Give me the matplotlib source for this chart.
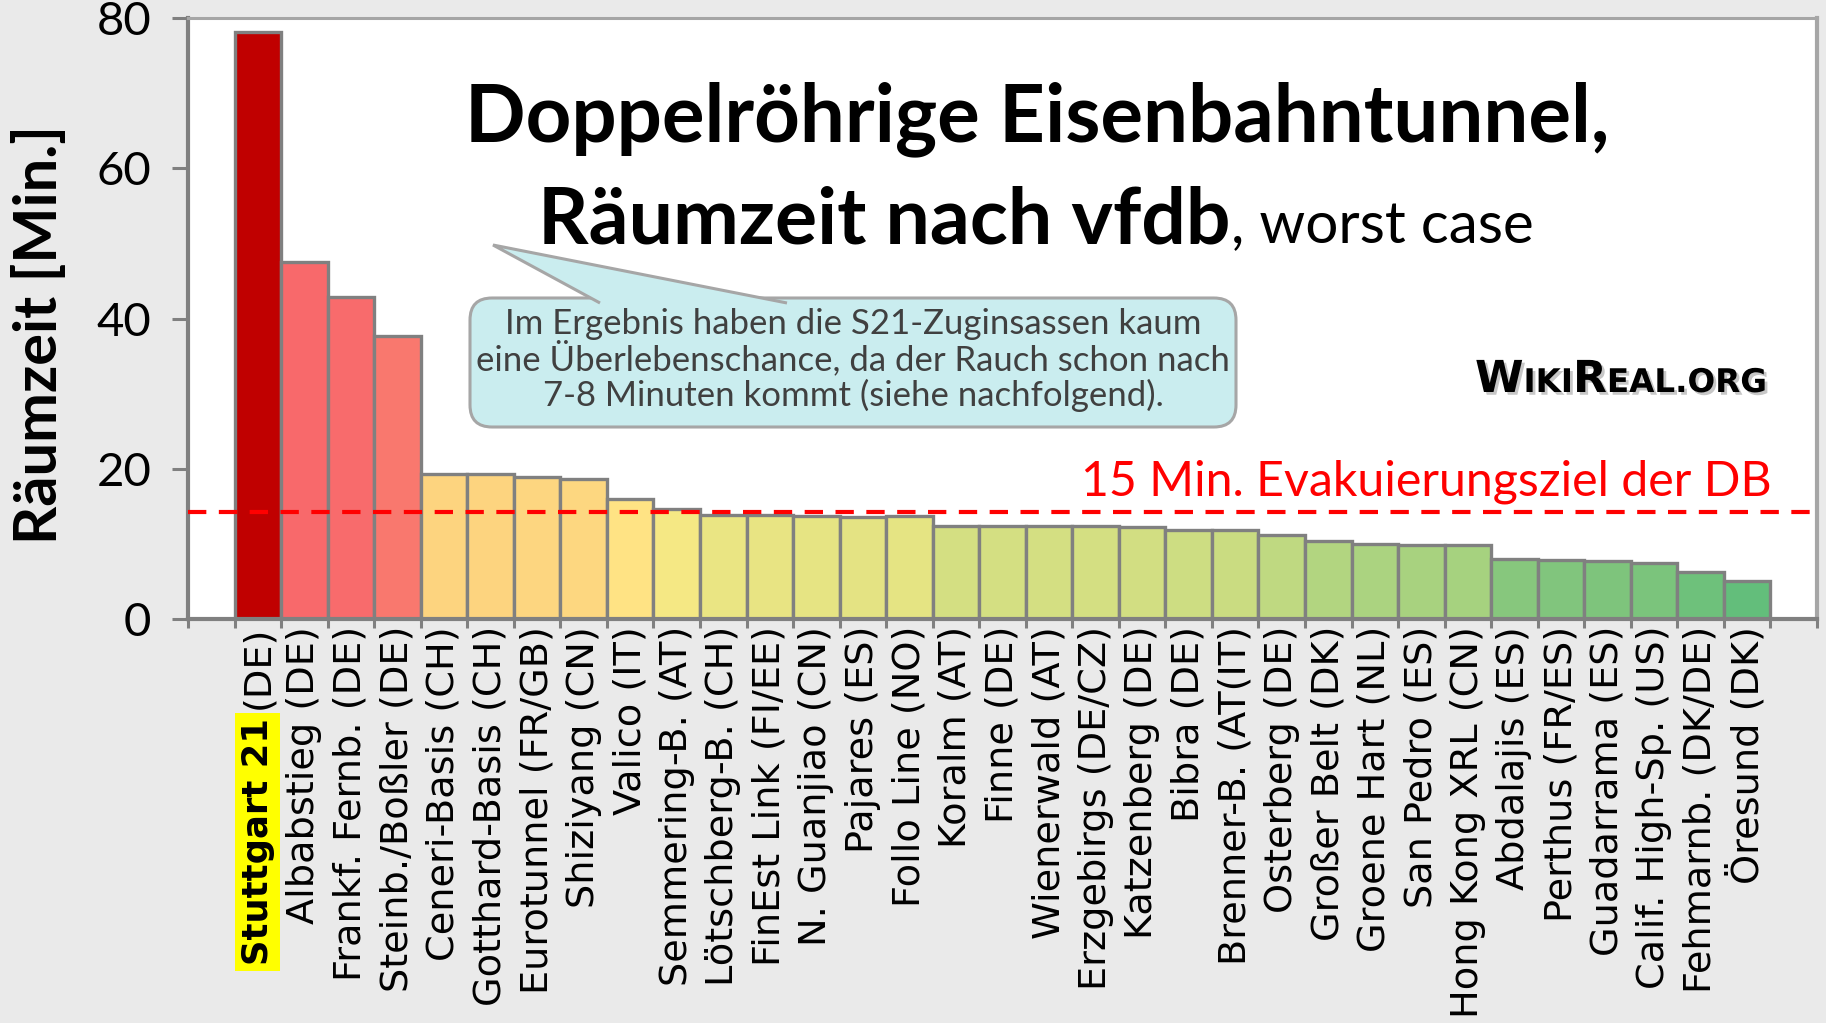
import matplotlib
matplotlib.use("Agg")
import matplotlib.pyplot as plt
from matplotlib.transforms import Affine2D, IdentityTransform
from matplotlib.patches import FancyBboxPatch, Polygon
from matplotlib.ticker import NullFormatter
import matplotlib.patheffects as pe
import numpy as np

# ---------------- data ----------------
tunnels = ["Stuttgart 21", "Albabstieg", "Frankf. Fernb.", "Steinb./Boßler", "Ceneri-Basis",
           "Gotthard-Basis", "Eurotunnel", "Shiziyang", "Valico", "Semmering-B.",
           "Lötschberg-B.", "FinEst Link", "N. Guanjiao", "Pajares", "Follo Line",
           "Koralm", "Finne", "Wienerwald", "Erzgebirgs", "Katzenberg", "Bibra",
           "Brenner-B.", "Osterberg", "Großer Belt", "Groene Hart", "San Pedro",
           "Hong Kong XRL", "Abdalajis", "Perthus", "Guadarrama", "Calif. High-Sp.",
           "Fehmarnb.", "Öresund"]
countries = ["DE", "DE", "DE", "DE", "CH", "CH", "FR/GB", "CN", "IT", "AT", "CH", "FI/EE",
             "CN", "ES", "NO", "AT", "DE", "AT", "DE/CZ", "DE", "DE", "AT(IT", "DE", "DK",
             "NL", "ES", "CN", "ES", "FR/ES", "ES", "US", "DK/DE", "DK"]
raeumzeit = [78.1, 47.5, 42.8, 37.7, 19.3, 19.3, 18.9, 18.6, 16.0, 14.6, 13.8, 13.8, 13.7,
             13.6, 13.7, 12.4, 12.4, 12.4, 12.4, 12.3, 11.9, 11.8, 11.2, 10.4, 10.0, 9.8,
             9.8, 8.0, 7.8, 7.7, 7.5, 6.3, 5.0]
yticks = [0, 20, 40, 60, 80]
evakuierungsziel = 14.3

title1 = "Doppelröhrige Eisenbahntunnel,"
title2_bold = "Räumzeit nach vfdb"
title2_reg = ", worst case"
callout_lines = ["Im Ergebnis haben die S21-Zuginsassen kaum",
                 "eine Überlebenschance, da der Rauch schon nach",
                 "7-8 Minuten kommt (siehe nachfolgend)."]
ziel_text = "15 Min. Evakuierungsziel der DB"
ylabel = "Räumzeit [Min.]"

# ---------------- styles ----------------
bar_colors = ["#C00000", "#F8696B", "#F86B6C", "#F9786E", "#FDD47F", "#FDD47F", "#FDD680",
              "#FDD780", "#FFE384", "#F5E884", "#EAE583", "#E8E483", "#E6E483", "#E4E383",
              "#E5E483", "#D4DF82", "#D4DF82", "#D4DF82", "#D4DF82", "#D2DE82", "#CDDD82",
              "#CADC81", "#BFD981", "#B2D580", "#ABD380", "#A8D27F", "#A6D27F", "#87C77D",
              "#81C57D", "#7EC47C", "#7BC47C", "#6EC17B", "#63BE7B"]
GREY = "#808080"
LGREY = "#A6A6A6"
CAL = ["Lato", "DejaVu Sans"]

W, H = 1826, 1023
fig = plt.figure(figsize=(W / 100, H / 100), dpi=100, facecolor="#EAEAEA")
T = Affine2D().scale(1, -1).translate(0, H) + IdentityTransform()  # pixel coords, y down

L, R, TOP, BOT = 188, 1817, 18, 619
ax = fig.add_axes([L / W, 1 - BOT / H, (R - L) / W, (BOT - TOP) / H])
ax.set_facecolor("white")

xpos = np.arange(len(raeumzeit))
ax.bar(xpos, raeumzeit, width=1.0, color=bar_colors, edgecolor=GREY, linewidth=2.4, zorder=2)
ax.axhline(evakuierungsziel, color="#FF0000", lw=3.0, linestyle=(0, (4.4, 3.0)), zorder=4)

ax.set_xlim(-1.5, len(xpos) + 0.5)
ax.set_ylim(0, 80)

for s in ["left", "bottom"]:
    ax.spines[s].set_color(GREY)
    ax.spines[s].set_linewidth(3.0)
ax.spines["top"].set_color(LGREY)
ax.spines["top"].set_linewidth(2.2)
ax.spines["right"].set_color(LGREY)
ax.spines["right"].set_linewidth(3.0)

# x: boundary tick marks (major), labels at bar centres (minor)
ax.set_xticks(np.arange(-1.5, len(xpos) + 1.0, 1.0))
ax.xaxis.set_major_formatter(NullFormatter())
labels = [f"{t} ({c})" for t, c in zip(tunnels, countries)]
labels[0] = f"({countries[0]})"
ax.set_xticks(xpos, labels, minor=True)
ax.tick_params(axis="x", which="major", length=6.5, width=2.2, color=GREY, direction="out")
ax.tick_params(axis="x", which="minor", length=0, pad=5, labelsize=27.5, labelrotation=90)
for lbl in ax.get_xticklabels(minor=True):
    lbl.set_fontfamily("DejaVu Sans")

ax.set_yticks(yticks)
ax.tick_params(axis="y", length=11.5, width=2.2, color=GREY, pad=15, labelsize=34)
for lbl in ax.get_yticklabels():
    lbl.set_fontfamily(CAL)

fig.canvas.draw()
rend = fig.canvas.get_renderer()


def fit(t, target, vertical=False):
    bb = t.get_window_extent(rend)
    cur = bb.height if vertical else bb.width
    t.set_fontsize(t.get_fontsize() * target / cur)


# Stuttgart 21 highlighted label
bb0 = ax.get_xticklabels(minor=True)[0].get_window_extent(rend)
fig.text((bb0.x0 + bb0.x1) / 2, bb0.y0 - 9, tunnels[0], transform=IdentityTransform(),
         rotation=90, ha="center", va="top", fontsize=25.5, fontweight="bold",
         family="DejaVu Sans",
         bbox=dict(facecolor="#FFFF00", edgecolor="none", boxstyle="square,pad=0.16"))

# y label
yl = fig.text(40, 335, ylabel, transform=T, rotation=90, ha="center", va="center",
              fontweight="bold", family=CAL, fontsize=45)
fit(yl, 419, vertical=True)

# title
t1 = fig.text(1037, 141, title1, transform=T, ha="center", va="baseline",
              fontweight="bold", family=CAL, fontsize=60)
fit(t1, 1144)
t2 = fig.text(1231, 243, title2_bold, transform=T, ha="right", va="baseline",
              fontweight="bold", family=CAL, fontsize=60)
fit(t2, 693)
t3 = fig.text(1231, 243, title2_reg, transform=T, ha="left", va="baseline",
              family=CAL, fontsize=36)
fit(t3, 303)

# callout box
box = FancyBboxPatch((470, 298), 766, 129, boxstyle="round,pad=0,rounding_size=22",
                     transform=T, facecolor="#CAEDEF", edgecolor=LGREY, lw=2.2, zorder=1)
fig.add_artist(box)
tri = Polygon([(600, 303), (493, 245), (787, 303)], closed=False, transform=T,
              facecolor="#CAEDEF", edgecolor=LGREY, lw=2.2, zorder=1.1)
fig.add_artist(tri)
cts = []
for line, yb in zip(callout_lines, [334, 370, 406]):
    ct = fig.text(853, yb, line, transform=T, ha="center", va="baseline", family=CAL,
                  color="#404040", fontsize=22, zorder=2)
    cts.append(ct)
w2 = cts[1].get_window_extent(rend).width
for ct in cts:
    ct.set_fontsize(ct.get_fontsize() * 751 / w2)

# 15 min target text
zt = fig.text(1772, 495, ziel_text, transform=T, ha="right", va="baseline", family=CAL,
              color="#FF0000", fontsize=30, zorder=3)
fit(zt, 690)

# WikiReal logo (small caps)
pieces = [("W", 1.0), ("IKI", 0.74), ("R", 1.0), ("EAL.ORG", 0.74)]
shadow = [pe.SimplePatchShadow(offset=(2, -2), shadow_rgbFace="black", alpha=0.22),
          pe.Normal()]


def draw_logo(base):
    xs = 1475
    arts = []
    for s, f in pieces:
        t = fig.text(xs, 392, s, transform=T, ha="left", va="baseline", family="DejaVu Sans",
                     fontweight="bold", fontsize=base * f, path_effects=shadow, zorder=3)
        xs += t.get_window_extent(rend).width
        arts.append(t)
    return arts, xs - 1475


arts, tw = draw_logo(29)
for a in arts:
    a.remove()
arts, tw = draw_logo(29 * 292 / tw)

fig.savefig("out.png", dpi=100, facecolor=fig.get_facecolor())
